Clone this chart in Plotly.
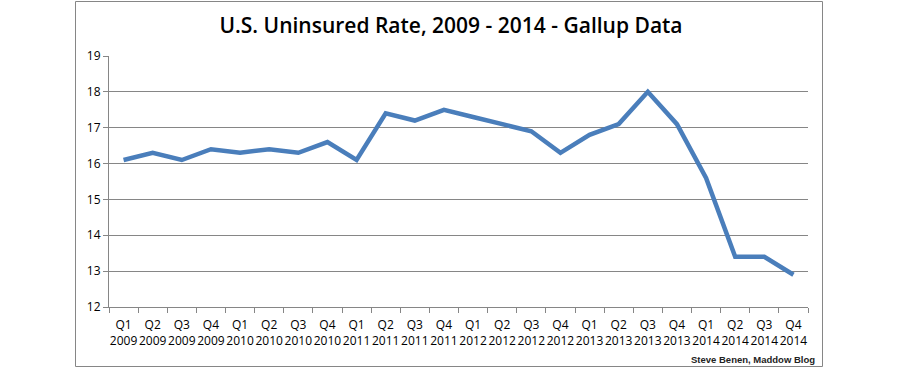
import plotly.graph_objects as go

quarters = ["Q1", "Q2", "Q3", "Q4"] * 6
years = [str(y) for y in range(2009, 2015) for _ in range(4)]
categories = [f"{q}<br>{y}" for q, y in zip(quarters, years)]
uninsured_rate = [16.1, 16.3, 16.1, 16.4, 16.3, 16.4, 16.3, 16.6,
                  16.1, 17.4, 17.2, 17.5, 17.3, 17.1, 16.9, 16.3,
                  16.8, 17.1, 18.0, 17.1, 15.6, 13.4, 13.4, 12.9]
y_ticks = [12, 13, 14, 15, 16, 17, 18, 19]

W, H = 899, 368
L, R, T, B = 109, 808, 56, 307
pw, ph = R - L, B - T

def px_x(x):
    return (x - L) / pw

def px_y(y):
    return (B - y) / ph

grey = "#868686"

fig = go.Figure()
fig.add_trace(go.Scatter(
    x=categories, y=uninsured_rate, mode="lines",
    line=dict(color="#4A7EBB", width=4.5),
    hoverinfo="x+y",
))

fig.update_layout(
    width=W, height=H,
    margin=dict(l=L, r=W - R, t=T, b=H - B),
    paper_bgcolor="white", plot_bgcolor="white",
    showlegend=False,
    font=dict(family="Open Sans", color="#000000"),
    title=dict(
        text="U.S. Uninsured Rate, 2009 - 2014 - Gallup Data",
        x=451 / W, xanchor="center", xref="container",
        y=1 - 26 / H, yanchor="middle", yref="container",
        font=dict(family="Open Sans", size=21, weight=600, color="#000000"),
    ),
    xaxis=dict(
        type="category", tickson="boundaries",
        range=[-0.5, len(categories) - 0.5],
        ticks="outside", ticklen=5, tickcolor=grey, tickwidth=1,
        showline=True, linecolor=grey, linewidth=1,
        showgrid=False, tickangle=0, ticklabelstandoff=7,
        tickfont=dict(size=12, family="Open Sans", color="#000000"),
    ),
    yaxis=dict(
        range=[12, 19], tickvals=y_ticks,
        ticks="outside", ticklen=5, tickcolor=grey, tickwidth=1,
        showline=True, linecolor=grey, linewidth=1,
        showgrid=True, gridcolor=grey, gridwidth=1,
        zeroline=False,
        tickfont=dict(size=12, family="Open Sans", color="#000000"),
    ),
    shapes=[dict(
        type="rect", xref="paper", yref="paper",
        x0=px_x(75.5), x1=px_x(822.5), y0=px_y(366.5), y1=px_y(1.5),
        line=dict(color=grey, width=1), fillcolor="rgba(0,0,0,0)", layer="below",
    )],
    annotations=[dict(
        text="<b>Steve Benen, Maddow Blog</b>",
        xref="paper", yref="paper",
        x=px_x(817), y=px_y(359), xanchor="right", yanchor="middle",
        showarrow=False,
        font=dict(family="Liberation Sans", size=9.5, color="#222222"),
    )],
)

fig.write_html("out.html", config={"displayModeBar": False},
               post_script="document.body.style.margin='0';document.body.style.overflow='hidden';")
